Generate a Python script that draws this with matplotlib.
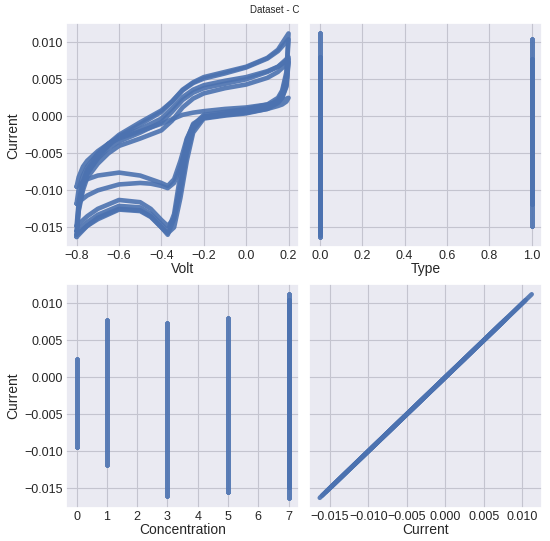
import numpy as np
import matplotlib
matplotlib.use('Agg')
import matplotlib.pyplot as plt
import seaborn as sns

# voltage sampling of the forward (anodic) and reverse (cathodic) sweeps
volt_up = [-0.8, -0.79, -0.77, -0.75, -0.7, -0.65, -0.6, -0.5, -0.4, -0.35,
           -0.3, -0.25, -0.2, -0.1, 0.0, 0.1, 0.15, 0.2]
volt_down = [0.2, 0.19, 0.17, 0.15, 0.1, 0.0, -0.1, -0.2, -0.25, -0.28,
             -0.31, -0.34, -0.37, -0.4, -0.45, -0.5, -0.6, -0.7, -0.75, -0.8]

# currents, one cycle per run
c0_up = [-0.0095, -0.0082, -0.0068, -0.0060, -0.0047, -0.0037, -0.0030, -0.0020, -0.0010, -0.0004,
         0.0002, 0.0005, 0.0007, 0.0010, 0.0012, 0.0016, 0.0019, 0.0025]
c0_down = [0.0025, 0.0020, 0.0016, 0.0014, 0.0010, 0.0005, 0.0002, -0.0002, -0.0012, -0.0030,
           -0.0060, -0.0085, -0.0094, -0.0090, -0.0085, -0.0080, -0.0076, -0.0080, -0.0085, -0.0095]
c1_up = [-0.0118, -0.0098, -0.0080, -0.0068, -0.0050, -0.0037, -0.0028, -0.0017, -0.0003, 0.0011,
         0.0026, 0.0036, 0.0042, 0.0048, 0.0053, 0.0061, 0.0067, 0.0077]
c1_down = [0.0077, 0.0042, 0.0026, 0.0019, 0.0011, 0.0005, 0.0002, -0.0002, -0.0015, -0.0038,
           -0.0068, -0.0090, -0.0097, -0.0094, -0.0091, -0.0090, -0.0092, -0.0100, -0.0107, -0.0118]
c3_up = [-0.0160, -0.0128, -0.0100, -0.0083, -0.0064, -0.0050, -0.0040, -0.0030, -0.0019, -0.0006,
         0.0012, 0.0024, 0.0031, 0.0038, 0.0043, 0.0052, 0.0060, 0.0073]
c3_down = [0.0073, 0.0040, 0.0025, 0.0018, 0.0010, 0.0004, 0.0001, -0.0003, -0.0022, -0.0060,
           -0.0110, -0.0150, -0.0158, -0.0150, -0.0136, -0.0128, -0.0126, -0.0139, -0.0148, -0.0160]
c5_up = [-0.0155, -0.0120, -0.0092, -0.0076, -0.0057, -0.0043, -0.0034, -0.0022, -0.0008, 0.0006,
         0.0022, 0.0032, 0.0038, 0.0044, 0.0050, 0.0060, 0.0067, 0.0080]
c5_down = [0.0080, 0.0045, 0.0028, 0.0020, 0.0012, 0.0006, 0.0003, -0.0001, -0.0010, -0.0032,
           -0.0078, -0.0132, -0.0155, -0.0146, -0.0132, -0.0123, -0.0121, -0.0133, -0.0143, -0.0155]
c7a_up = [-0.0163, -0.0125, -0.0095, -0.0078, -0.0056, -0.0040, -0.0027, -0.0011, 0.0006, 0.0020,
          0.0036, 0.0046, 0.0053, 0.0060, 0.0067, 0.0079, 0.0090, 0.0112]
c7a_down = [0.0112, 0.0060, 0.0035, 0.0025, 0.0016, 0.0010, 0.0006, 0.0002, -0.0012, -0.0040,
            -0.0090, -0.0138, -0.0160, -0.0150, -0.0135, -0.0127, -0.0125, -0.0137, -0.0148, -0.0163]
c7b_up = [-0.0148, -0.0115, -0.0088, -0.0072, -0.0052, -0.0037, -0.0025, -0.0008, 0.0008, 0.0020,
          0.0035, 0.0045, 0.0051, 0.0058, 0.0066, 0.0078, 0.0088, 0.0104]
c7b_down = [0.0104, 0.0055, 0.0032, 0.0022, 0.0014, 0.0008, 0.0004, 0.0000, -0.0018, -0.0050,
            -0.0100, -0.0138, -0.0148, -0.0140, -0.0125, -0.0116, -0.0113, -0.0125, -0.0135, -0.0148]

concentrations = [0, 1, 3, 5, 7, 7]
types = [0, 1, 0, 0, 0, 1]
runs_up = [c0_up, c1_up, c3_up, c5_up, c7a_up, c7b_up]
runs_down = [c0_down, c1_down, c3_down, c5_down, c7a_down, c7b_down]

sns.set_theme(style='darkgrid')
plt.rcParams['font.family'] = ['Liberation Sans', 'DejaVu Sans']
plt.rcParams['grid.color'] = '#c4c4cf'
plt.rcParams['grid.linewidth'] = 0.8

blue = '#4C72B0'
kw = dict(color=blue, lw=3.3, alpha=0.9, solid_capstyle='round', solid_joinstyle='round')

fig, axes = plt.subplots(2, 2, figsize=(5.5, 5.41), dpi=100, sharey=True)
fig.subplots_adjust(left=0.12, right=0.986, bottom=0.061, top=0.957, wspace=0.043, hspace=0.165)

for conc, typ, up, down in zip(concentrations, types, runs_up, runs_down):
    volt = volt_up + volt_down
    cur = up + down
    axes[0, 0].plot(volt, cur, **kw)
    axes[0, 1].plot([typ] * len(cur), cur, **kw)
    axes[1, 0].plot([conc] * len(cur), cur, **kw)
    axes[1, 1].plot(sorted(cur), sorted(cur), **kw)

yt = [-0.015, -0.010, -0.005, 0.0, 0.005, 0.010]
for ax in axes.flat:
    ax.set_yticks(yt)
    ax.tick_params(labelsize=9, length=0, pad=2)
axes[0, 0].set_xticks([-0.8, -0.6, -0.4, -0.2, 0.0, 0.2])
axes[0, 1].set_xticks([0.0, 0.2, 0.4, 0.6, 0.8, 1.0])
axes[1, 0].set_xticks(range(8))
axes[1, 1].set_xticks(yt)

axes[0, 0].set_xlabel('Volt', fontsize=10, labelpad=0)
axes[0, 1].set_xlabel('Type', fontsize=10, labelpad=0)
axes[1, 0].set_xlabel('Concentration', fontsize=10, labelpad=0)
axes[1, 1].set_xlabel('Current', fontsize=10, labelpad=0)
axes[0, 0].set_ylabel('Current', fontsize=10, labelpad=3)
axes[1, 0].set_ylabel('Current', fontsize=10, labelpad=3)

fig.suptitle('Dataset - C', fontsize=7, y=0.99)
fig.savefig('out.png', dpi=100)
